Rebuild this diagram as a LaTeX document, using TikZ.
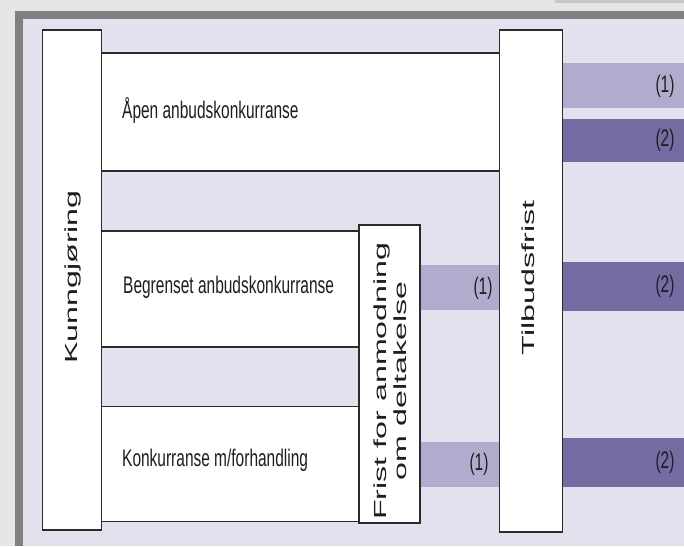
\documentclass[tikz,border=0pt]{standalone}
\usepackage{fontspec}
\newfontfamily\hfont[FakeStretch=0.645]{Liberation Sans}
\newfontfamily\vfont[FakeStretch=1.84]{Liberation Sans}
\definecolor{outerbg}{HTML}{E6E6E6}
\definecolor{topbar}{HTML}{C8C8C8}
\definecolor{framegrey}{HTML}{808080}
\definecolor{lav}{HTML}{E3E1EE}
\definecolor{bandlight}{HTML}{B1ABCE}
\definecolor{banddark}{HTML}{766BA3}
\definecolor{boxline}{HTML}{2B2B2B}
\definecolor{txt}{HTML}{1E1E1E}
\begin{document}
\begin{tikzpicture}[x=1pt,y=-1pt,
  boxst/.style={draw=boxline, line width=1.8pt, fill=white, inner sep=0pt},
  bandone/.style={fill=bandlight, draw=none, inner sep=0pt},
  bandtwo/.style={fill=banddark, draw=none, inner sep=0pt},
  htext/.style={text=txt, inner sep=0pt, font=\hfont\fontsize{24}{28}\selectfont},
  vtext/.style={text=txt, inner sep=0pt, rotate=90, font=\vfont\fontsize{17.5}{20}\selectfont},
  lab/.style={text=txt, inner sep=0pt, font=\hfont\fontsize{24}{28}\selectfont}]
\useasboundingbox (0,0) rectangle (684,546);
\fill[outerbg] (0,0) rectangle (684,546);
\fill[topbar] (555,0) rectangle (684,3);
\fill[framegrey] (15,11) rectangle (684,546);
\fill[lav] (23,19) rectangle (684,546);
% bands
\node[bandone, minimum width=121.5, minimum height=45] (a1) at (623.25,85.8) {};
\node[bandtwo, minimum width=121.5, minimum height=42.4] (a2) at (623.25,140.5) {};
\node[bandone, minimum width=79.5, minimum height=45] (b1) at (459.75,287.5) {};
\node[bandtwo, minimum width=121.5, minimum height=49] (b2) at (623.25,286.2) {};
\node[bandone, minimum width=79.5, minimum height=45.3] (k1) at (459.75,464.35) {};
\node[bandtwo, minimum width=121.5, minimum height=49] (k2) at (623.25,462.5) {};
% labels
\node[lab] (la1) at (665,86) {(1)};
\node[lab] (la2) at (665,140.5) {(2)};
\node[lab] (lb1) at (483,288) {(1)};
\node[lab] (lb2) at (665,286) {(2)};
\node[lab] (lk1) at (479,464) {(1)};
\node[lab] (lk2) at (665,462.5) {(2)};
% horizontal boxes
\node[boxst, minimum width=398, minimum height=118] (apen) at (300.5,112) {};
\node[boxst, minimum width=257.5, minimum height=116] (begr) at (230.25,289) {};
\node[boxst, minimum width=257.5, minimum height=115] (konk) at (230.25,464) {};
% vertical boxes
\node[boxst, minimum width=59, minimum height=500] (kunn) at (72,280) {};
\node[boxst, minimum width=63, minimum height=502] (tilb) at (531,281) {};
\node[boxst, minimum width=61, minimum height=298] (frist) at (389.5,374) {};
% texts
\node[htext, anchor=base west] (tA) at (122,118) {Åpen anbudskonkurranse};
\node[htext, anchor=base west] (tB) at (123,293) {Begrenset anbudskonkurranse};
\node[htext, anchor=base west] (tK) at (122,466.7) {Konkurranse m/forhandling};
\node[vtext, anchor=base] (tKunn) at (77,277) {Kunngjøring};
\node[vtext, anchor=base] (tTilb) at (534,278) {Tilbudsfrist};
\node[vtext, align=center, anchor=center] (tFrist) at (390.5,381) {Frist for anmodning\\om deltakelse};
\end{tikzpicture}
\end{document}
